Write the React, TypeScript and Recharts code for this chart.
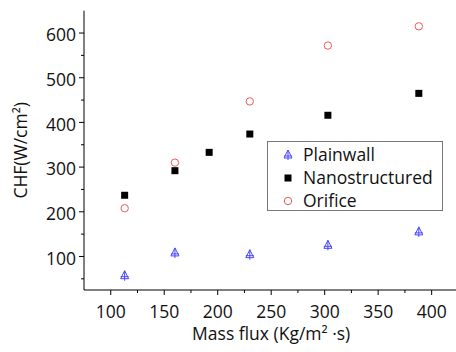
import React from 'react';
import { ScatterChart, Scatter, XAxis, YAxis, Legend, Label } from 'recharts';

// values
const massFlux = [113, 160, 192, 230, 303, 388];
const plainwall = [57, 108, null, 104, 125, 155];
const nanostructured = [237, 292, 333, 374, 416, 465];
const orifice = [208, 310, null, 447, 572, 615];

const seriesNames = ['Plainwall', 'Nanostructured', 'Orifice'];
const xTicks = [100, 125, 150, 175, 200, 225, 250, 275, 300, 325, 350, 375, 400];
const xLabels = [100, 150, 200, 250, 300, 350, 400];
const yTicks = [50, 100, 150, 200, 250, 300, 350, 400, 450, 500, 550, 600];
const yLabels = [100, 200, 300, 400, 500, 600];

const FONT = '"Open Sans", "Noto Sans", sans-serif';
const FONT_SIZE = 17.5;
const TRI = '#4646ff';
const RED = '#f05a5a';

function toPoints(values: (number | null)[]) {
  return massFlux
    .map((x, i) => ({ x, y: values[i] }))
    .filter((p) => p.y !== null);
}

const plainwallData = toPoints(plainwall);
const nanoData = toPoints(nanostructured);
const orificeData = toPoints(orifice);

function Triangle({ cx, cy }: any) {
  return (
    <g stroke={TRI} strokeWidth={1} fill="none">
      <path d={`M${cx},${cy - 5} L${cx - 4},${cy + 3} L${cx + 4},${cy + 3} Z`} />
      <line x1={cx} y1={cy - 5} x2={cx} y2={cy + 5} />
      <line x1={cx - 4} y1={cy + 1} x2={cx + 4} y2={cy + 1} />
    </g>
  );
}

function Square({ cx, cy }: any) {
  return <rect x={cx - 3.5} y={cy - 3.5} width={7} height={7} fill="#000" />;
}

function Circle({ cx, cy }: any) {
  return <circle cx={cx} cy={cy} r={3.7} fill="none" stroke={RED} strokeWidth={1} />;
}

const markers: Record<string, any> = {
  Plainwall: Triangle,
  Nanostructured: Square,
  Orifice: Circle,
};

function BottomTick({ x, y, payload }: any) {
  const major = xLabels.includes(payload.value);
  return (
    <g>
      <line x1={x} y1={y} x2={x} y2={y + (major ? 5 : 3)} stroke="#000" />
      {major && (
        <text x={x} y={y + 22} dy="0.35em" textAnchor="middle" fill="#111" fontSize={FONT_SIZE} fontFamily={FONT}>
          {payload.value}
        </text>
      )}
    </g>
  );
}

function TopTick({ x, y, payload }: any) {
  const major = xLabels.includes(payload.value);
  return <line x1={x} y1={y} x2={x} y2={y + (major ? 5 : 3)} stroke="#000" />;
}

function LeftTick({ x, y, payload }: any) {
  const major = yLabels.includes(payload.value);
  return (
    <g>
      <line x1={x} y1={y} x2={x - (major ? 5 : 3)} y2={y} stroke="#000" />
      {major && (
        <text x={x - 8} y={y + 2} dy="0.35em" textAnchor="end" fill="#111" fontSize={FONT_SIZE} fontFamily={FONT}>
          {payload.value}
        </text>
      )}
    </g>
  );
}

function RightTick({ x, y, payload }: any) {
  const major = yLabels.includes(payload.value);
  return <line x1={x} y1={y} x2={x - (major ? 5 : 3)} y2={y} stroke="#000" />;
}

function LegendBox({ payload }: any) {
  const items = [...(payload || [])].sort(
    (a: any, b: any) => seriesNames.indexOf(a.value) - seriesNames.indexOf(b.value)
  );
  return (
    <svg width={176} height={70} style={{ display: 'block' }}>
      <rect x={0.5} y={0.5} width={175} height={69} fill="#fff" stroke="#777" />
      {items.map((item: any, i: number) => {
        const Marker = markers[item.value];
        const cy = 14 + i * 23;
        return (
          <g key={item.value}>
            <Marker cx={21} cy={cy} />
            <text x={36} y={cy} dy="0.35em" fontSize={FONT_SIZE} fontFamily={FONT} fill="#111">
              {item.value}
            </text>
          </g>
        );
      })}
    </svg>
  );
}

export default function App() {
  return (
    <div style={{ position: 'absolute', left: 0, top: 0, width: 456, height: 352, overflow: 'hidden', background: '#fff' }}>
      <ScatterChart width={470} height={352} margin={{ top: 10.7, right: 11.6, bottom: 0, left: 0 }}>
        <XAxis
          type="number"
          dataKey="x"
          domain={[75, 425]}
          allowDataOverflow
          ticks={xTicks}
          interval={0}
          tick={<BottomTick />}
          tickLine={false}
          tickSize={0}
          tickMargin={0}
          height={62}
          stroke="#000"
        >
          <Label value="Mass flux (Kg/m² ·s)" position="insideBottom" offset={12} fill="#111" fontSize={FONT_SIZE} fontFamily={FONT} />
        </XAxis>
        <XAxis
          xAxisId="top"
          orientation="top"
          type="number"
          dataKey="x"
          domain={[75, 425]}
          allowDataOverflow
          ticks={xTicks}
          interval={0}
          tick={<TopTick />}
          tickLine={false}
          tickSize={0}
          tickMargin={0}
          height={0}
          stroke="#000"
        />
        <YAxis
          type="number"
          dataKey="y"
          domain={[25, 650]}
          allowDataOverflow
          ticks={yTicks}
          interval={0}
          tick={<LeftTick />}
          tickLine={false}
          tickSize={0}
          tickMargin={0}
          width={84}
          stroke="#000"
        >
          <Label
            value="CHF(W/cm²)"
            angle={-90}
            position="insideLeft"
            dx={16}
            fill="#111"
            fontSize={FONT_SIZE}
            fontFamily={FONT}
            style={{ textAnchor: 'middle' }}
          />
        </YAxis>
        <YAxis
          yAxisId="right"
          orientation="right"
          type="number"
          dataKey="y"
          domain={[25, 650]}
          allowDataOverflow
          ticks={yTicks}
          interval={0}
          tick={<RightTick />}
          tickLine={false}
          tickSize={0}
          tickMargin={0}
          width={0}
          stroke="#000"
        />
        <Legend
          layout="vertical"
          align="center"
          verticalAlign="middle"
          content={<LegendBox />}
          wrapperStyle={{ position: 'absolute', left: 267, top: 141, width: 176, height: 70 }}
        />
        <Scatter name="Plainwall" data={plainwallData} fill={TRI} shape={<Triangle />} isAnimationActive={false} />
        <Scatter name="Nanostructured" data={nanoData} fill="#000" shape={<Square />} isAnimationActive={false} />
        <Scatter name="Orifice" data={orificeData} fill={RED} shape={<Circle />} isAnimationActive={false} />
      </ScatterChart>
    </div>
  );
}
